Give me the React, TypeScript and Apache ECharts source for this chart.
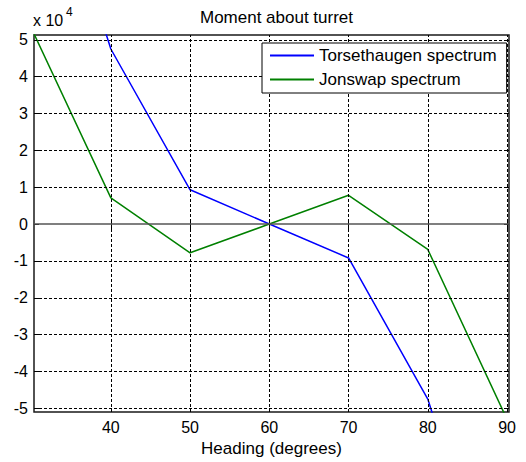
import React, { useEffect, useRef } from "react";
import * as echarts from "echarts";

// Heading angles (degrees) and turret moments for each wave spectrum
const headings = [30, 40, 50, 60, 70, 80, 90];
const torsethaugen = [115000, 47500, 9300, 0, -9200, -47500, -115000];
const jonswap = [53000, 7100, -7800, 0, 7800, -6900, -53000];

const xTicks = [40, 50, 60, 70, 80, 90];
const yTicks = [-50000, -40000, -30000, -20000, -10000, 0, 10000, 20000, 30000, 40000, 50000];

const FONT = "'Liberation Sans', Arial, Helvetica, sans-serif";

export default function App() {
  const ref = useRef<HTMLDivElement>(null);

  useEffect(() => {
    if (!ref.current) return;
    const chart = echarts.init(ref.current, undefined, { renderer: "svg" });

    const xMin = 30.3;
    const xMax = 90.25;
    const yMin = -51000;
    const yMax = 51300;

    const tickStyle = { show: true, inside: true, length: 5, lineStyle: { color: "#000", width: 1 } };

    chart.setOption({
      animation: false,
      backgroundColor: "#fff",
      title: {
        text: "Moment about turret",
        left: 271.5,
        textAlign: "center",
        top: 4,
        textStyle: { fontFamily: FONT, fontSize: 17, fontWeight: "normal", color: "#000" },
      },
      grid: {
        left: 34,
        top: 35,
        width: 475,
        height: 378,
        show: true,
        borderColor: "#1a1a1a",
        borderWidth: 1.5,
        backgroundColor: "#fff",
      },
      legend: {
        orient: "vertical",
        left: 262,
        top: 43,
        z: 100,
        zlevel: 1,
        data: ["Torsethaugen spectrum", "Jonswap spectrum"],
        icon: "rect",
        itemWidth: 44,
        itemHeight: 2,
        itemGap: 7,
        itemTextGap: 5,
        padding: [4, 10, 5, 8],
        backgroundColor: "#fff",
        borderColor: "#000",
        borderWidth: 1,
        borderRadius: 0,
        textStyle: { fontFamily: FONT, fontSize: 17, color: "#000" },
      },
      xAxis: [
        {
          type: "value",
          min: xMin,
          max: xMax,
          name: "Heading (degrees)",
          nameLocation: "middle",
          nameGap: 28,
          nameTextStyle: { fontFamily: FONT, fontSize: 17, color: "#000" },
          axisLine: { show: false },
          axisTick: { ...tickStyle, customValues: xTicks },
          axisLabel: {
            customValues: xTicks,
            margin: 7,
            fontFamily: FONT,
            fontSize: 16,
            color: "#000",
          },
          splitLine: { show: false },
        },
        {
          type: "value",
          position: "top",
          min: xMin,
          max: xMax,
          axisLine: { show: false },
          axisTick: { ...tickStyle, customValues: xTicks },
          axisLabel: { show: false },
          splitLine: { show: false },
        },
      ],
      yAxis: [
        {
          type: "value",
          min: yMin,
          max: yMax,
          axisLine: { show: false },
          axisTick: { ...tickStyle, customValues: yTicks },
          axisLabel: {
            customValues: yTicks,
            margin: 6,
            fontFamily: FONT,
            fontSize: 16,
            color: "#000",
            formatter: (v: number) => String(Math.round(v / 10000)),
          },
          splitLine: { show: false },
        },
        {
          type: "value",
          position: "right",
          min: yMin,
          max: yMax,
          axisLine: { show: false },
          axisTick: { ...tickStyle, customValues: yTicks },
          axisLabel: { show: false },
          splitLine: { show: false },
        },
      ],
      graphic: [
        {
          type: "text",
          left: 33,
          top: 12,
          style: { text: "x 10", font: `16px ${FONT}`, fill: "#000" },
        },
        {
          type: "text",
          left: 66,
          top: 6,
          style: { text: "4", font: `12px ${FONT}`, fill: "#000" },
        },
      ],
      series: [
        {
          // dashed grid and the solid zero reference line
          name: "grid",
          type: "line",
          data: [],
          z: 1,
          silent: true,
          markLine: {
            silent: true,
            symbol: "none",
            label: { show: false },
            lineStyle: { color: "#000", width: 1, type: [3, 2] },
            data: [
              ...xTicks.map((v) => ({ xAxis: v })),
              ...yTicks.filter((v) => v !== 0).map((v) => ({ yAxis: v })),
              { yAxis: 0, lineStyle: { color: "#555", width: 1.5, type: "solid" } },
            ],
          },
        },
        {
          name: "Torsethaugen spectrum",
          type: "line",
          z: 3,
          data: headings.map((h, i) => [h, torsethaugen[i]]),
          symbol: "none",
          clip: true,
          lineStyle: { color: "#0000ff", width: 1.5 },
          itemStyle: { color: "#0000ff" },
        },
        {
          name: "Jonswap spectrum",
          type: "line",
          z: 3,
          data: headings.map((h, i) => [h, jonswap[i]]),
          symbol: "none",
          clip: true,
          lineStyle: { color: "#008000", width: 1.5 },
          itemStyle: { color: "#008000" },
        },
      ],
    });

    return () => chart.dispose();
  }, []);

  return (
    <div
      ref={ref}
      style={{ position: "fixed", left: 0, top: 0, width: 526, height: 462 }}
    />
  );
}
